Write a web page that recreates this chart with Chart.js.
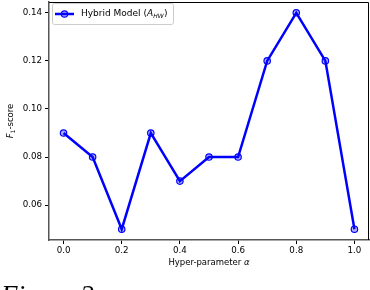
<!DOCTYPE html>
<html>
<head>
<meta charset="utf-8">
<script src="https://cdn.jsdelivr.net/npm/chart.js@4.4.1/dist/chart.umd.min.js"></script>
<style>
  body { margin: 0; background: white; }
  #wrap { position: relative; width: 370px; height: 290px; overflow: hidden; }
  #caption { position: absolute; left: 1px; top: 282px; line-height: 27px; font-family: "Liberation Serif", serif; font-style: italic; font-size: 27px; color: #000; white-space: nowrap; }
</style>
</head>
<body>
<div id="wrap">
  <canvas id="chart_f1" width="370" height="290"></canvas>
  <div id="caption">Figure 2</div>
</div>
<script>
// valores
const alfas = [0.0, 0.1, 0.2, 0.3, 0.4, 0.5, 0.6, 0.7, 0.8, 0.9, 1.0];
const f1_hibrido = [0.09, 0.08, 0.05, 0.09, 0.07, 0.08, 0.08, 0.12, 0.14, 0.12, 0.05];
const ticks_x = [0.0, 0.2, 0.4, 0.6, 0.8, 1.0];
const ticks_y = [0.06, 0.08, 0.10, 0.12, 0.14];

const azul = '#0000ff';
const fonte = '"DejaVu Sans", sans-serif';

var pontos = [];
for (var i = 0; i < alfas.length; i++) {
    pontos.push({ x: alfas[i], y: f1_hibrido[i] });
}

// moldura, titulos dos eixos e legenda
const extras = {
    id: 'extras',
    afterDraw(chart) {
        const ctx = chart.ctx;
        const a = chart.chartArea;
        ctx.save();
        ctx.strokeStyle = '#000';
        ctx.lineWidth = 1;
        ctx.beginPath();
        ctx.moveTo(a.left, a.top + 0.5);
        ctx.lineTo(a.right - 0.5, a.top + 0.5);
        ctx.lineTo(a.right - 0.5, a.bottom);
        ctx.stroke();

        // titulo x
        ctx.fillStyle = '#000';
        ctx.textBaseline = 'middle';
        const t1 = 'Hyper-parameter ';
        ctx.font = 'italic 8.5px ' + fonte;
        const wa = ctx.measureText('α').width;
        ctx.font = '8.5px ' + fonte;
        const w1 = ctx.measureText(t1).width;
        var xc = (a.left + a.right) / 2 - (w1 + wa) / 2;
        ctx.textAlign = 'left';
        ctx.fillText(t1, xc, 263);
        ctx.font = 'italic 8.5px ' + fonte;
        ctx.fillText('α', xc + w1, 263);

        // titulo y
        ctx.save();
        ctx.translate(11, (a.top + a.bottom) / 2);
        ctx.rotate(-Math.PI / 2);
        ctx.font = 'italic 8.5px ' + fonte;
        const wf = ctx.measureText('F').width;
        ctx.font = '6px ' + fonte;
        const ws = ctx.measureText('1').width;
        ctx.font = '8.5px ' + fonte;
        const wr = ctx.measureText('-score').width;
        var x0 = -(wf + ws + wr) / 2;
        ctx.font = 'italic 8.5px ' + fonte;
        ctx.fillText('F', x0, 0);
        ctx.font = '6px ' + fonte;
        ctx.fillText('1', x0 + wf, 2);
        ctx.font = '8.5px ' + fonte;
        ctx.fillText('-score', x0 + wf + ws, 0);
        ctx.restore();

        // legenda
        const lx = a.left + 3, ly = a.top + 1;
        ctx.fillStyle = 'rgba(255,255,255,0.85)';
        ctx.strokeStyle = '#ccc';
        ctx.lineWidth = 1;
        ctx.beginPath();
        ctx.roundRect(lx + 0.5, ly + 0.5, 121, 21, 2);
        ctx.fill();
        ctx.stroke();
        ctx.strokeStyle = azul;
        ctx.lineWidth = 2.5;
        ctx.beginPath();
        ctx.moveTo(lx + 3, ly + 11);
        ctx.lineTo(lx + 22, ly + 11);
        ctx.stroke();
        ctx.lineWidth = 1.2;
        ctx.fillStyle = 'rgba(0,0,255,0.3)';
        ctx.beginPath();
        ctx.arc(lx + 12.5, ly + 11, 3.2, 0, Math.PI * 2);
        ctx.fill();
        ctx.stroke();

        ctx.fillStyle = '#000';
        var tx = lx + 29;
        ctx.font = '9px ' + fonte;
        ctx.fillText('Hybrid Model (', tx, ly + 11);
        tx += ctx.measureText('Hybrid Model (').width;
        ctx.font = 'italic 9px ' + fonte;
        ctx.fillText('A', tx, ly + 11);
        tx += ctx.measureText('A').width;
        ctx.font = 'italic 6px ' + fonte;
        ctx.fillText('HW', tx, ly + 13);
        tx += ctx.measureText('HW').width;
        ctx.font = '9px ' + fonte;
        ctx.fillText(')', tx + 0.5, ly + 11);
        ctx.restore();
    }
};

const ctxF1 = document.getElementById('chart_f1');

new Chart(ctxF1, {
    type: 'line',
    data: {
        datasets: [{
            label: 'Hybrid Model',
            data: pontos,
            borderColor: azul,
            borderWidth: 2.5,
            backgroundColor: 'rgba(0,0,255,0.3)',
            pointRadius: 3.2,
            pointBorderWidth: 1.2,
            pointBorderColor: azul,
            pointBackgroundColor: 'rgba(0,0,255,0.3)',
            tension: 0
        }]
    },
    options: {
        responsive: false,
        animation: false,
        layout: { autoPadding: false, padding: { top: 2, right: 1, left: 0, bottom: 0 } },
        scales: {
            x: {
                type: 'linear',
                min: -0.05,
                max: 1.05,
                afterBuildTicks: (s) => { s.ticks = ticks_x.map(v => ({ value: v })); },
                afterFit: (s) => { s.height = 50; s.paddingLeft = 0; s.paddingRight = 0; },
                ticks: {
                    color: '#000',
                    padding: 2,
                    maxRotation: 0,
                    font: { family: fonte, size: 8.7 },
                    callback: (v) => v.toFixed(1)
                },
                grid: { drawOnChartArea: false, drawTicks: true, tickLength: 4, color: '#000' },
                border: { display: true, color: '#555', width: 1.5 }
            },
            y: {
                min: 0.0455,
                max: 0.1445,
                afterBuildTicks: (s) => { s.ticks = ticks_y.map(v => ({ value: v })); },
                afterFit: (s) => { s.width = 49; s.paddingTop = 0; s.paddingBottom = 0; },
                ticks: {
                    color: '#000',
                    padding: 3,
                    font: { family: fonte, size: 8.7 },
                    callback: (v) => v.toFixed(2)
                },
                grid: { drawOnChartArea: false, drawTicks: true, tickLength: 4, color: '#000' },
                border: { display: true, color: '#555', width: 1.5 }
            }
        },
        plugins: {
            legend: { display: false },
            tooltip: { enabled: false }
        }
    },
    plugins: [extras]
});
</script>
</body>
</html>
